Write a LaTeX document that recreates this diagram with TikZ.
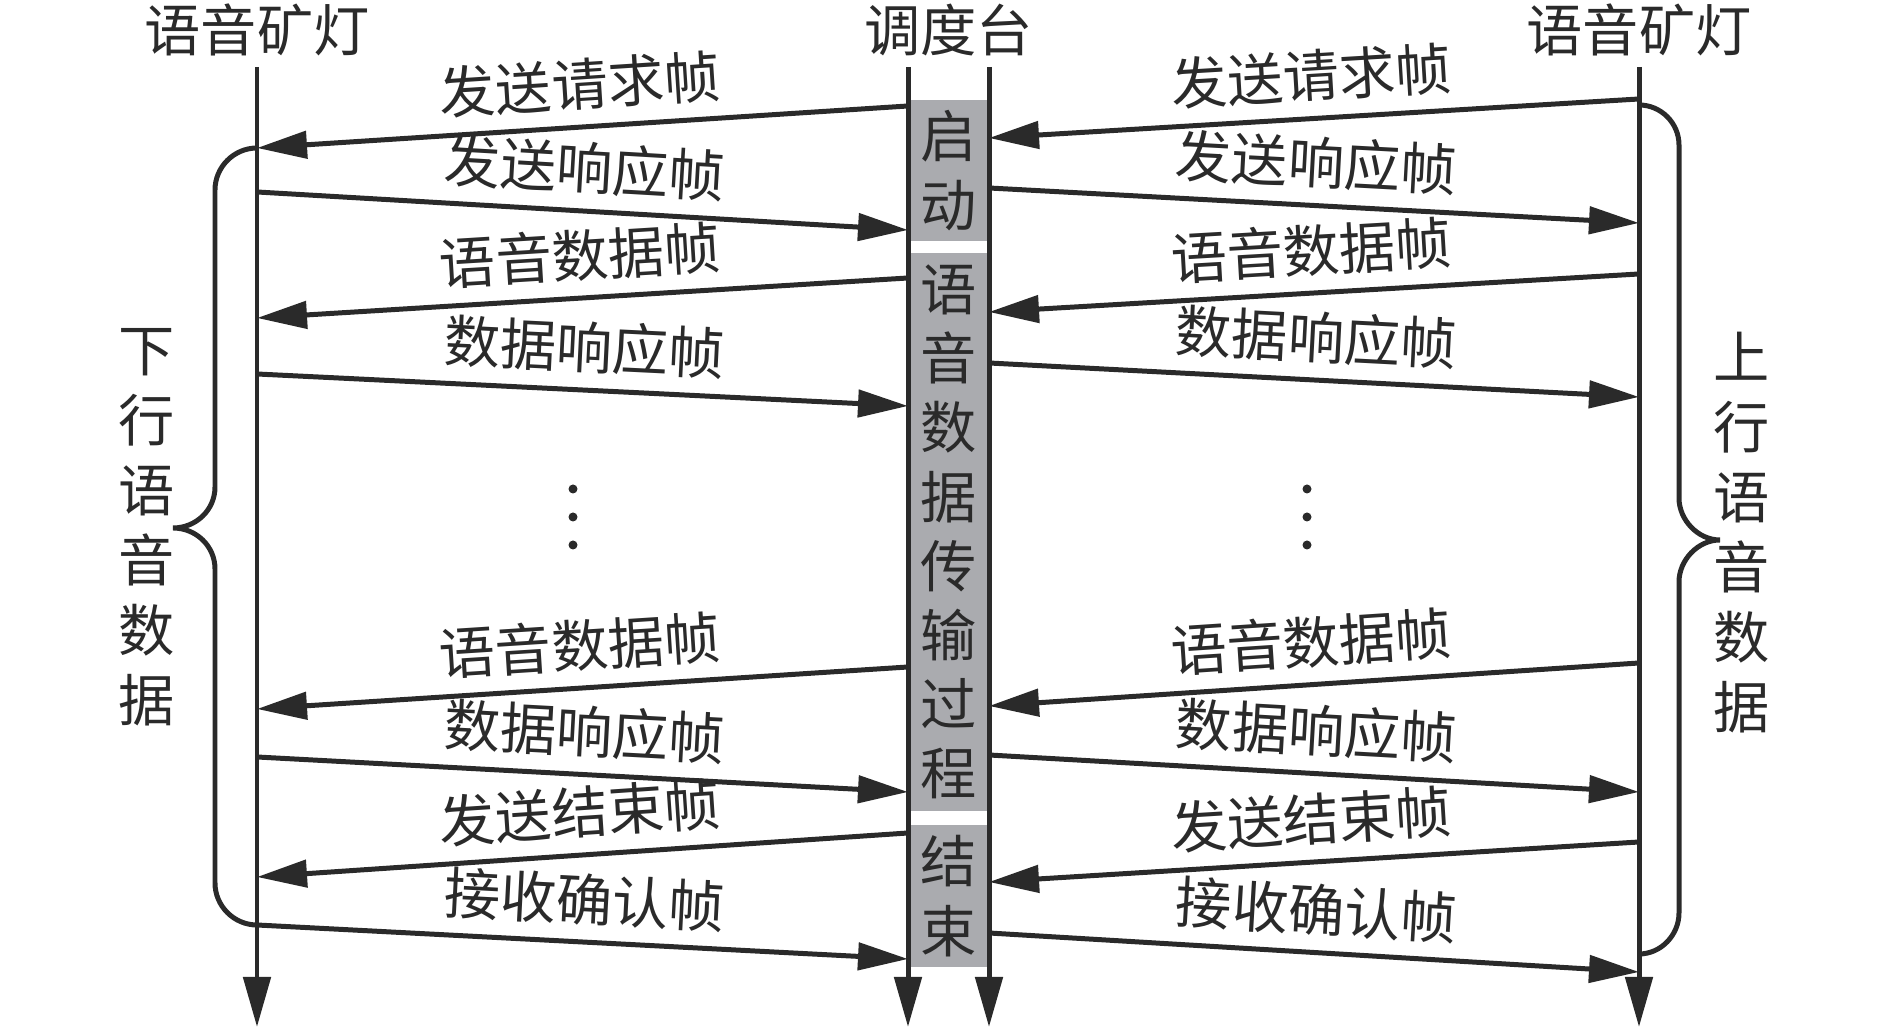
\documentclass[tikz,border=0pt]{standalone}
\usepackage{fontspec}
\setmainfont{Noto Sans CJK SC}
\usetikzlibrary{arrows.meta}
\definecolor{ink}{RGB}{42,42,42}
\definecolor{phasegray}{RGB}{170,171,175}

\begin{document}
\begin{tikzpicture}[color=ink,line width=1.42pt,
    title/.style={font=\fontsize{16}{19.7}\selectfont},
    toright/.style={-{Triangle[length=5mm,width=2.7mm]}},
    toleft/.style={{Triangle[length=5mm,width=2.7mm]}-},
    lbl/.style={midway,above,sloped,inner sep=4pt,font=\fontsize{16}{19.7}\selectfont},
    phase/.style={fill=phasegray,minimum width=0.81cm,inner sep=0pt,align=center,font=\fontsize{16}{19.7}\selectfont},
    side/.style={align=center,font=\fontsize{16}{19.9}\selectfont}]
  \useasboundingbox (0,0) rectangle (18.9,-10.29);
  \node[title] (lamp1) at (2.57,-0.30) {语音矿灯};
  \node[title] (desk) at (9.485,-0.30) {调度台};
  \node[title] (lamp2) at (16.39,-0.30) {语音矿灯};
  \node[phase,minimum height=1.41cm] (start) at (9.485,-1.705) {启\\动};
  \node[phase,minimum height=5.58cm] (talk) at (9.485,-5.32) {语\\音\\数\\据\\传\\输\\过\\程};
  \node[phase,minimum height=1.42cm] (stop) at (9.485,-8.96) {结\\束};
  \foreach \n/\x in {lampA/2.57,deskA/9.08,deskB/9.89,lampB/16.39}{
    \coordinate (\n top) at (\x,-0.67);
    \coordinate (\n end) at (\x,-10.27);
    \draw[toright] (\n top) -- (\n end);
  }
  \foreach \i/\ya/\yb/\dir/\txt in {1/1.48/1.06/toleft/发送请求帧,
      2/1.92/2.30/toright/发送响应帧,
      3/3.18/2.78/toleft/语音数据帧,
      4/3.74/4.06/toright/数据响应帧,
      5/7.09/6.67/toleft/语音数据帧,
      6/7.57/7.92/toright/数据响应帧,
      7/8.77/8.33/toleft/发送结束帧,
      8/9.25/9.59/toright/接收确认帧}{
    \coordinate (lampA\i) at (2.57,-\ya);
    \coordinate (deskA\i) at (9.08,-\yb);
    \draw[\dir] (lampA\i) -- node[lbl] {\txt} (deskA\i);
  }
  \foreach \i/\ya/\yb/\dir/\txt in {1/1.38/0.99/toleft/发送请求帧,
      2/1.88/2.23/toright/发送响应帧,
      3/3.12/2.74/toleft/语音数据帧,
      4/3.63/3.97/toright/数据响应帧,
      5/7.06/6.63/toleft/语音数据帧,
      6/7.55/7.92/toright/数据响应帧,
      7/8.82/8.42/toleft/发送结束帧,
      8/9.33/9.72/toright/接收确认帧}{
    \coordinate (deskB\i) at (9.89,-\ya);
    \coordinate (lampB\i) at (16.39,-\yb);
    \draw[\dir] (deskB\i) -- node[lbl] {\txt} (lampB\i);
  }
  \foreach \x in {5.73,13.07}
    \foreach \y in {4.89,5.17,5.45}
      \fill (\x,-\y) circle (0.045);
  \draw (lampA1) .. controls (2.34,-1.48) and (2.15,-1.67) .. (2.15,-1.90) -- (2.15,-4.87)
    .. controls (2.15,-5.10) and (1.96,-5.28) .. (1.73,-5.28)
    .. controls (1.96,-5.28) and (2.15,-5.46) .. (2.15,-5.69) -- (2.15,-8.83)
    .. controls (2.15,-9.06) and (2.34,-9.25) .. (lampA8);
  \draw (16.39,-1.05) .. controls (16.61,-1.05) and (16.79,-1.23) .. (16.79,-1.45) -- (16.79,-4.98)
    .. controls (16.79,-5.20) and (16.98,-5.40) .. (17.20,-5.40)
    .. controls (16.98,-5.40) and (16.79,-5.60) .. (16.79,-5.82) -- (16.79,-9.13)
    .. controls (16.79,-9.35) and (16.61,-9.54) .. (16.39,-9.54);
  \node[side] (down) at (1.47,-5.275) {下\\行\\语\\音\\数\\据};
  \node[side] (up) at (17.42,-5.325) {上\\行\\语\\音\\数\\据};
\end{tikzpicture}
\end{document}
